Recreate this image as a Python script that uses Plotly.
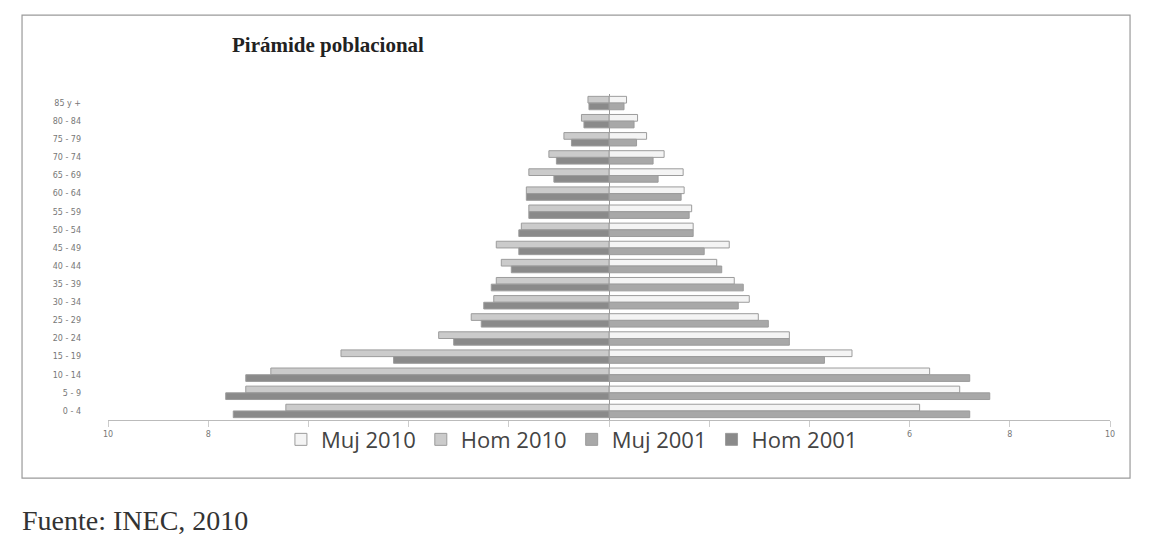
import plotly.graph_objects as go

# age groups, bottom to top
edades = ['0 - 4', '5 - 9', '10 - 14', '15 - 19', '20 - 24', '25 - 29', '30 - 34',
          '35 - 39', '40 - 44', '45 - 49', '50 - 54', '55 - 59', '60 - 64',
          '65 - 69', '70 - 74', '75 - 79', '80 - 84', '85 y +']

# percentages
muj_2010 = [6.2, 7.0, 6.4, 4.85, 3.6, 2.98, 2.8, 2.5, 2.15, 2.4, 1.68, 1.65, 1.5,
            1.48, 1.1, 0.75, 0.57, 0.35]
hom_2010 = [6.45, 7.25, 6.75, 5.35, 3.4, 2.75, 2.3, 2.25, 2.15, 2.25, 1.75, 1.6, 1.65,
            1.6, 1.2, 0.9, 0.55, 0.42]
muj_2001 = [7.2, 7.6, 7.2, 4.3, 3.6, 3.18, 2.58, 2.68, 2.25, 1.9, 1.68, 1.6, 1.44,
            0.98, 0.88, 0.55, 0.5, 0.3]
hom_2001 = [7.5, 7.65, 7.25, 4.3, 3.1, 2.55, 2.5, 2.35, 1.95, 1.8, 1.8, 1.6, 1.65,
            1.1, 1.05, 0.75, 0.5, 0.4]

# labels under the legend are hidden in the original
tick_vals = [-10, -8, -6, -4, -2, 0, 2, 4, 6, 8, 10]
tick_text = ['10', '8', '', '', '', '', '', '', '6', '8', '10']

fig = go.Figure()

series = [
    ('Muj 2010', muj_2010, 1, '#f4f4f4', 0),
    ('Hom 2010', hom_2010, -1, '#cbcbcb', 0),
    ('Muj 2001', muj_2001, 1, '#a8a8a8', -0.37),
    ('Hom 2001', hom_2001, -1, '#8a8a8a', -0.37),
]
for name, vals, sign, color, off in series:
    fig.add_trace(go.Bar(
        y=edades,
        x=[sign * v for v in vals],
        name=name,
        orientation='h',
        width=0.37,
        offset=off,
        marker=dict(color=color, line=dict(color='#9c9c9c', width=1)),
    ))

# the page body adds an 8px margin, so margins are shifted to compensate
fig.update_layout(
    barmode='overlay',
    width=1154, height=543,
    margin=dict(l=100, r=52, t=86, b=131),
    paper_bgcolor='white',
    plot_bgcolor='white',
    font=dict(family='DejaVu Sans', color='#666666'),
    showlegend=True,
    legend=dict(
        orientation='h',
        x=0.463, xanchor='center',
        y=-0.06, yanchor='middle',
        bgcolor='rgba(255,255,255,0)',
        font=dict(family='Open Sans', size=22, color='#444444'),
        itemwidth=30,
        traceorder='normal',
    ),
    xaxis=dict(
        range=[-10, 10],
        tickvals=tick_vals,
        ticktext=tick_text,
        tickfont=dict(size=8, color='#777777'),
        showgrid=False,
        zeroline=True,
        zerolinecolor='#9a9a9a',
        zerolinewidth=1,
        showline=True,
        linecolor='#bbbbbb',
        ticks='outside',
        ticklen=6,
        tickcolor='#cccccc',
        automargin=False,
    ),
    yaxis=dict(
        tickfont=dict(size=8, color='#777777'),
        showgrid=False,
        showline=False,
        ticklabelstandoff=26,
        automargin=False,
    ),
    shapes=[
        dict(type='rect', xref='paper', yref='paper',
             x0=-0.0858, x1=1.020, y0=-0.178, y1=1.242,
             line=dict(color='#9a9a9a', width=1.2)),
    ],
    annotations=[
        dict(text='<b>Pirámide poblacional</b>', xref='paper', yref='paper',
             x=0.122, y=1.15, xanchor='left', yanchor='middle', showarrow=False,
             font=dict(family='Liberation Serif', size=21, color='#222222')),
        dict(text='Fuente: INEC, 2010', xref='paper', yref='paper',
             x=-0.0878, y=-0.362, xanchor='left', yanchor='bottom', showarrow=False,
             font=dict(family='Liberation Serif', size=28, color='#333333')),
    ],
)

fig.write_html("out.html")
